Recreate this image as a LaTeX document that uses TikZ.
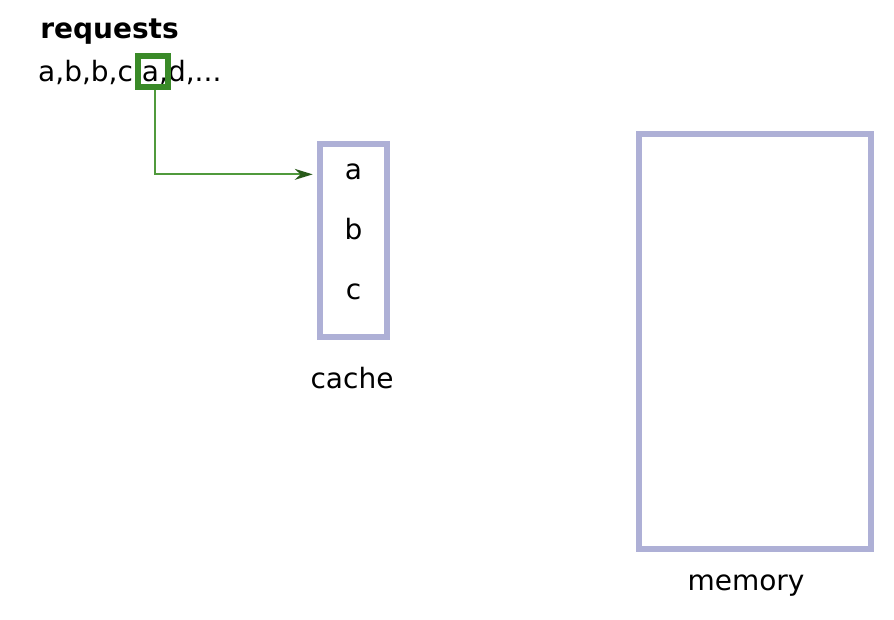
\documentclass[tikz,border=0pt]{standalone}
\usepackage{fontspec}
\setmainfont{DejaVu Sans}
\usetikzlibrary{arrows.meta,calc}
\definecolor{slot}{RGB}{174,176,214}
\definecolor{pick}{RGB}{58,138,40}
\definecolor{link}{RGB}{80,154,60}
\definecolor{tip}{RGB}{40,90,25}
\begin{document}
\begin{tikzpicture}[x=1pt,y=-1pt,
  lbl/.style={anchor=base,inner sep=0pt,font=\fontsize{28}{34}\selectfont},
  store/.style={draw=slot,line width=6pt,inner sep=0pt,fill=none},
  marker/.style={draw=pick,line width=5.5pt,inner sep=0pt,minimum width=30pt,minimum height=31pt},
  fetch/.style={draw=link,line width=2.2pt,-{Stealth[length=18pt,width=11pt,color=tip]}}
]
\useasboundingbox (0,0) rectangle (894,620);

% request sequence
\node[lbl,font=\fontsize{28}{34}\selectfont\bfseries] (title) at (109.5,39) {requests};
\node[lbl,anchor=base west] (seq) at (38,82) {a,b,b,c,a,d,...};
\node[marker] (cur) at (153,71.5) {};

% cache with its three entries
\node[store,minimum width=67.6pt,minimum height=192.8pt] (cache) at (353.5,240.9) {};
\node[lbl] (ca) at (353.5,180) {a};
\node[lbl] (cb) at (353.5,240) {b};
\node[lbl] (cc) at (353.5,300) {c};
\node[lbl] (cachelbl) at (352,388) {cache};

% main memory
\node[store,minimum width=232pt,minimum height=415pt] (mem) at (754.5,341.5) {};
\node[lbl] (memlbl) at (746,590) {memory};

% current request goes into the cache
\draw[fetch,shorten >=4pt] ([xshift=2pt]cur.south) |- ($(cache.west |- ca.center)+(0,2)$);
\end{tikzpicture}
\end{document}
